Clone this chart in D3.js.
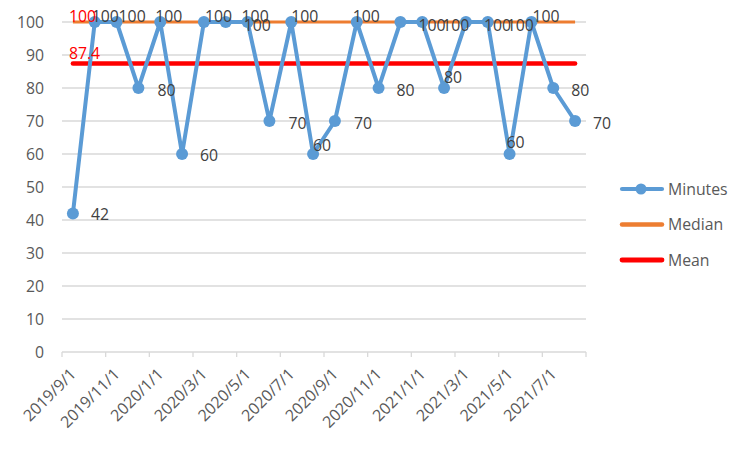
<!DOCTYPE html>
<html><head><meta charset="utf-8">
<script src="https://cdn.jsdelivr.net/npm/d3@7"></script>
<style>body{margin:0;background:#fff}svg{display:block}</style>
</head><body>
<script>
const months = ["2019/9/1","2019/10/1","2019/11/1","2019/12/1","2020/1/1","2020/2/1","2020/3/1","2020/4/1","2020/5/1","2020/6/1","2020/7/1","2020/8/1","2020/9/1","2020/10/1","2020/11/1","2020/12/1","2021/1/1","2021/2/1","2021/3/1","2021/4/1","2021/5/1","2021/6/1","2021/7/1","2021/8/1"];
const minutes = [42,100,100,80,100,60,100,100,100,70,100,60,70,100,80,100,100,80,100,100,60,100,80,70];
const medianValue = 100;
const meanValue = 87.4;
const yTicks = [0,10,20,30,40,50,60,70,80,90,100];
const seriesNames = ["Minutes","Median","Mean"];

const W = 750, H = 450;
const FONT = "'Open Sans', 'Liberation Sans', sans-serif";
const FS = 15.8;
const svg = d3.select("body").append("svg").attr("width", W).attr("height", H);

const x = d3.scaleBand().domain(months).range([62, 586]);
const y = d3.scaleLinear().domain([0, 100]).range([352, 22]);
const cx = d => x(d) + x.bandwidth() / 2;

// gridlines
svg.append("g").selectAll("line").data(yTicks.filter(t => t > 0)).join("line")
  .attr("x1", 62).attr("x2", 586).attr("y1", d => y(d)).attr("y2", d => y(d))
  .attr("stroke", "#d9d9d9").attr("stroke-width", 1.3);
// x axis line
svg.append("line").attr("x1", 62).attr("x2", 586).attr("y1", y(0)).attr("y2", y(0))
  .attr("stroke", "#d9d9d9").attr("stroke-width", 1.3);
// x ticks every 2 months + final
const tickXs = months.filter((m, i) => i % 2 === 0).map(m => x(m)).concat([x.range()[1]]);
svg.append("g").selectAll("line").data(tickXs).join("line")
  .attr("x1", d => d).attr("x2", d => d).attr("y1", y(0)).attr("y2", y(0) + 5)
  .attr("stroke", "#d9d9d9").attr("stroke-width", 1.3);
// y tick labels
svg.append("g").selectAll("text").data(yTicks).join("text")
  .attr("x", 44).attr("y", d => y(d)).attr("dy", "0.36em").attr("text-anchor", "end")
  .attr("font-family", FONT).attr("font-size", FS).attr("fill", "#595959").text(d => d);
// x tick labels
svg.append("g").selectAll("text").data(months.filter((m, i) => i % 2 === 0)).join("text")
  .attr("transform", d => `translate(${x(d) + 11},${y(0) + 19}) rotate(-45)`)
  .attr("text-anchor", "end").attr("dy", "0.36em")
  .attr("font-family", FONT).attr("font-size", 16).attr("fill", "#595959").text(d => d);

// median & mean lines
const x0 = cx(months[0]), x1 = cx(months[months.length - 1]);
svg.append("line").attr("x1", x0).attr("x2", x1).attr("y1", y(medianValue)).attr("y2", y(medianValue))
  .attr("stroke", "#ED7D31").attr("stroke-width", 3);
svg.append("line").attr("x1", x0).attr("x2", x1).attr("y1", y(meanValue)).attr("y2", y(meanValue))
  .attr("stroke", "#FF0000").attr("stroke-width", 4.5).attr("stroke-linecap", "round");

// minutes line
const line = d3.line().x((d, i) => cx(months[i])).y(d => y(d));
svg.append("path").datum(minutes).attr("d", line).attr("fill", "none")
  .attr("stroke", "#5B9BD5").attr("stroke-width", 4).attr("stroke-linejoin", "round");
svg.append("g").selectAll("circle").data(minutes).join("circle")
  .attr("cx", (d, i) => cx(months[i])).attr("cy", d => y(d)).attr("r", 6).attr("fill", "#5B9BD5");

// label placement offsets (left edge dx, vertical center dy)
const labelOffsets = [[18,1],[-3,-6],[2,-6],[19,2],[-5,-6],[18,1],[1,-6],[18,3],[-6,-6],[19,2],[0,-6],[0,-9],
  [19,2],[-4,-6],[18,2],[18,3],[20,3],[0,-11],[18,3],[19,3],[-3,-12],[1,-6],[18,2],[18,2]];
svg.append("g").selectAll("text").data(minutes).join("text")
  .attr("x", (d, i) => cx(months[i]) + labelOffsets[i][0])
  .attr("y", (d, i) => y(d) + labelOffsets[i][1]).attr("dy", "0.36em")
  .attr("font-family", FONT).attr("font-size", FS).attr("fill", "#404040").text(d => d);

// red labels for median/mean
svg.append("text").attr("x", x0 - 4).attr("y", y(medianValue) - 6).attr("dy", "0.36em")
  .attr("font-family", FONT).attr("font-size", FS).attr("fill", "#FF0000").text(medianValue);
svg.append("text").attr("x", x0 - 4).attr("y", y(meanValue) - 10).attr("dy", "0.36em")
  .attr("font-family", FONT).attr("font-size", FS).attr("fill", "#FF0000").text(meanValue);

// legend
const legColors = ["#5B9BD5", "#ED7D31", "#FF0000"];
const legWidths = [4.2, 4.5, 4.8];
const lg = svg.append("g").selectAll("g").data(seriesNames).join("g")
  .attr("transform", (d, i) => `translate(0,${189 + i * 35.5})`);
lg.append("line").attr("x1", 622).attr("x2", 662).attr("y1", 0).attr("y2", 0)
  .attr("stroke", (d, i) => legColors[i]).attr("stroke-width", (d, i) => legWidths[i]).attr("stroke-linecap", "round");
lg.filter((d, i) => i === 0).append("circle").attr("cx", 641).attr("cy", 0).attr("r", 5.5).attr("fill", "#5B9BD5");
lg.append("text").attr("x", 668).attr("y", 0).attr("dy", "0.36em")
  .attr("font-family", FONT).attr("font-size", FS).attr("fill", "#595959").text(d => d);
</script>
</body></html>
